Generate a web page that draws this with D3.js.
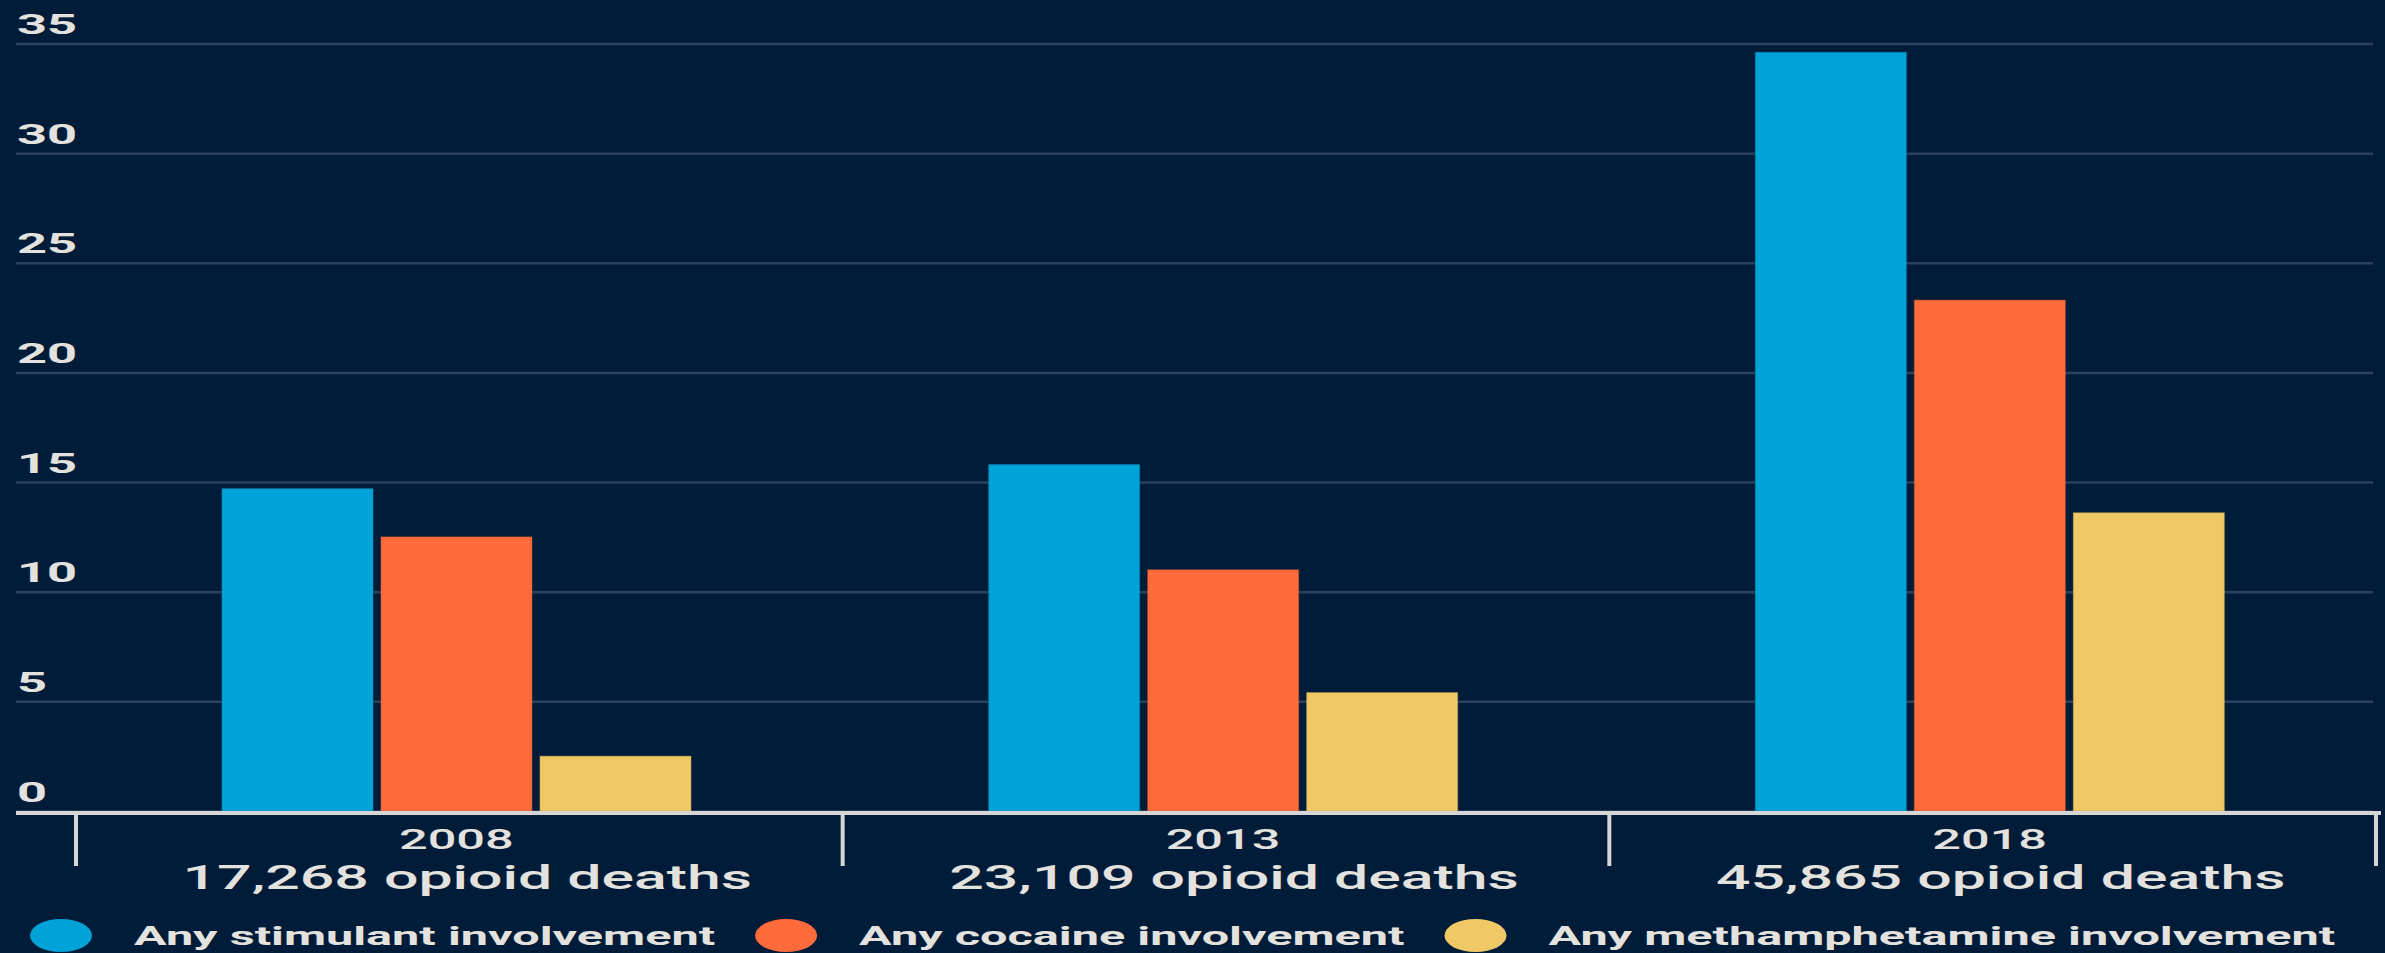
<!DOCTYPE html>
<html>
<head>
<meta charset="utf-8">
<script src="https://cdn.jsdelivr.net/npm/d3@7"></script>
<style>
  html, body { margin: 0; padding: 0; background: #011c38; overflow: hidden; }
  svg { display: block; }
  text { font-family: Roboto, "Noto Sans", sans-serif; }
</style>
</head>
<body>
<svg id="chart" width="2385" height="953"></svg>
<script>
// ---- data ----
const years = ["2008", "2013", "2018"];
const opioidDeaths = [17268, 23109, 45865];
const seriesNames = ["Any stimulant involvement", "Any cocaine involvement", "Any methamphetamine involvement"];
const stimulant = [14.7, 15.8, 34.6];
const cocaine = [12.5, 11.0, 23.3];
const meth = [2.5, 5.4, 13.6];
const yTicks = [0, 5, 10, 15, 20, 25, 30, 35];
const colors = ["#00a3d8", "#ff6b3a", "#f0c966"];

// ---- layout ----
const W = 2385, H = 953;
const SX = 1.87;            // horizontal stretch of the original rendering
const gridLeft = 16, gridRight = 2373;
const bandLeft = 76, bandRight = 2376;
const yZero = 811, yTop = 43.5;
const bg = "#011c38", gridColor = "#2c415a", axisColor = "#d6d6d6", textColor = "#e4e2de";

const svg = d3.select("#chart");
svg.append("rect").attr("width", W).attr("height", H).attr("fill", bg);

const y = d3.scaleLinear().domain([0, 35]).range([yZero, yTop]);
const x0 = d3.scaleBand().domain(years).range([bandLeft, bandRight]).padding(0);
const x1 = d3.scaleBand().domain(seriesNames).range([146, 615]).paddingInner(0.05).paddingOuter(0);

const values = [stimulant, cocaine, meth];

// gridlines + y labels via axis
const yAxis = d3.axisRight(y).tickValues(yTicks).tickSize(gridRight - gridLeft).tickFormat(d3.format("d"));
const gy = svg.append("g").attr("transform", `translate(${gridLeft},0)`).call(yAxis);
gy.select(".domain").remove();
gy.selectAll(".tick line").attr("stroke", gridColor).attr("stroke-width", 2.5);
gy.selectAll(".tick text")
  .attr("x", null).attr("dy", null).attr("y", 0)
  .attr("text-anchor", "start")
  .attr("transform", `translate(1,-10) scale(${SX},1)`)
  .attr("fill", textColor)
  .attr("font-size", 28)
  .attr("font-weight", 700)
  .attr("font-family", "Roboto, sans-serif");

// bars
const groups = svg.append("g").selectAll("g").data(years).join("g")
  .attr("transform", d => `translate(${x0(d)},0)`);
groups.selectAll("rect")
  .data((d, i) => seriesNames.map((s, j) => ({ s, j, v: values[j][i] })))
  .join("rect")
  .attr("x", d => x1(d.s))
  .attr("width", x1.bandwidth())
  .attr("y", d => y(d.v))
  .attr("height", d => y(0) - y(d.v))
  .attr("fill", d => colors[d.j])
  .attr("stroke", d => d3.color(colors[d.j]).darker(0.6))
  .attr("stroke-opacity", 0.5)
  .attr("stroke-width", 1);

// x axis line
svg.append("line").attr("x1", gridLeft).attr("x2", 2381)
  .attr("y1", 813).attr("y2", 813)
  .attr("stroke", axisColor).attr("stroke-width", 4);

// boundary ticks
const tickXs = years.map(d => x0(d)).concat([x0.range()[1]]);
svg.append("g").selectAll("line").data(tickXs).join("line")
  .attr("x1", d => d).attr("x2", d => d)
  .attr("y1", 813).attr("y2", 866)
  .attr("stroke", axisColor).attr("stroke-width", 4);

// category labels
const fmt = d3.format(",");
const lab = svg.append("g").selectAll("g").data(years).join("g");
lab.append("text")
  .attr("transform", d => `translate(${x0(d) + x0.bandwidth() / 2 - 3},849) scale(${SX},1)`)
  .attr("text-anchor", "middle")
  .attr("font-size", 27).attr("font-weight", 500)
  .attr("fill", textColor)
  .text(d => d);
lab.append("text")
  .attr("transform", (d, i) => `translate(${x0(d) + x0.bandwidth() / 2 + 8},889) scale(${SX},1)`)
  .attr("text-anchor", "middle")
  .attr("font-size", 32.5).attr("font-weight", 500)
  .attr("fill", textColor)
  .text((d, i) => `${fmt(opioidDeaths[i])} opioid deaths`);

// legend (flow layout)
const leg = svg.append("g");
let lx = 30;
seriesNames.forEach((name, i) => {
  leg.append("ellipse")
    .attr("cx", lx + 31).attr("cy", 935.5)
    .attr("rx", 31).attr("ry", 16.5)
    .attr("fill", colors[i]);
  const t = leg.append("text")
    .attr("transform", `translate(${lx + 104},945) scale(${SX},1)`)
    .attr("font-size", 26).attr("font-weight", 700)
    .attr("fill", textColor)
    .text(name);
  const w = t.node().getComputedTextLength() * SX;
  lx = lx + 104 + w + 40;
});
</script>
</body>
</html>
